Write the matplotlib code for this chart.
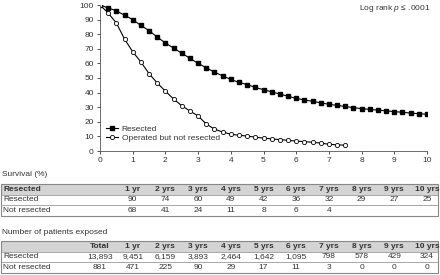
import numpy as np
import matplotlib
matplotlib.use('Agg')
import matplotlib.pyplot as plt
import matplotlib.transforms as mtransforms
from matplotlib.patches import Rectangle

plt.rcParams['font.family'] = ['Liberation Sans', 'DejaVu Sans']
plt.rcParams['mathtext.fontset'] = 'custom'
plt.rcParams['mathtext.it'] = 'Liberation Sans:italic'

# survival curves at quarter-year steps
t_res = np.arange(0, 10.01, 0.25)
s_res = [100, 98, 96, 93, 90, 86, 82.5, 78, 74, 70.5, 67, 63.5, 60,
         57, 54, 51.5, 49, 47, 45.5, 43.5, 42, 40.5, 39, 37.5, 36,
         35, 34, 33, 32, 31.2, 30.5, 29.7, 29, 28.5, 28, 27.5, 27,
         26.5, 26, 25.5, 25.2]
t_not = np.arange(0, 7.51, 0.25)
s_not = [100, 94.5, 87.7, 76.7, 68, 61, 53, 46.6, 41, 35.6, 31, 27.4, 24,
         18.5, 15, 13, 11.5, 10.8, 10.2, 9.5, 8.8, 8.3, 7.8, 7.3, 6.8,
         6.4, 6.0, 5.4, 4.6, 4.2, 4.0]

years = [1, 2, 3, 4, 5, 6, 7, 8, 9, 10]
year_labels = ['1 yr'] + ['%d yrs' % y for y in years[1:]]
surv_res = ['90', '74', '60', '49', '42', '36', '32', '29', '27', '25']
surv_not = ['68', '41', '24', '11', '8', '6', '4', '', '', '']
n_total = ['13,893', '881']
n_res = ['9,451', '6,159', '3,893', '2,464', '1,642', '1,095', '798', '578', '429', '324']
n_not = ['471', '225', '90', '29', '17', '11', '3', '0', '0', '0']

W, H = 440, 275
txt = '#333333'
fs = 6
fig = plt.figure(figsize=(W / 100, H / 100), dpi=100)
ax = fig.add_axes([100 / W, 1 - 151 / H, 327 / W, 146 / H])

ax.plot(t_res, s_res, '-s', c='black', lw=0.8, ms=3, mfc='black', label='Resected')
ax.plot(t_not, s_not, '-o', c='black', lw=0.8, ms=3, mfc='white', mew=0.6,
        label='Operated but not resected')
ax.set_xlim(0, 10)
ax.set_ylim(0, 100)
ax.set_xticks(range(0, 11))
ax.set_yticks(range(0, 101, 10))
ax.tick_params(labelsize=fs, length=2.5, width=0.6, pad=2, colors=txt)
for s in ['top', 'right']:
    ax.spines[s].set_visible(False)
for s in ['left', 'bottom']:
    ax.spines[s].set_linewidth(0.6)
    ax.spines[s].set_color('#555555')
ax.legend(loc='lower left', bbox_to_anchor=(0.0, 0.02), fontsize=fs, frameon=False,
          handlelength=1.5, handletextpad=0.4, labelspacing=0.2, borderaxespad=0.3,
          labelcolor=txt)
fig.text(430 / W, 1 - 9 / H, r'Log rank $p$ ≤ .0001', fontsize=fs, color=txt,
         ha='right', va='center')

# table columns line up with the year axis
blend = mtransforms.blended_transform_factory(ax.transData, fig.transFigure)


def fy(py):
    return 1 - py / H


def draw_table(top, rowh, header, rows, cols):
    x0, x1 = 1 / W, 438 / W
    fig.patches.append(Rectangle((x0, fy(top + rowh)), x1 - x0, rowh / H,
                                 transform=fig.transFigure, fc='#d4d4d4', ec='none'))
    for i in range(1, 3):
        yy = fy(top + i * rowh)
        fig.add_artist(plt.Line2D([x0, x1], [yy, yy], transform=fig.transFigure,
                                  color='#999999', lw=0.6))
    fig.patches.append(Rectangle((x0, fy(top + 3 * rowh)), x1 - x0, 3 * rowh / H,
                                 transform=fig.transFigure, fc='none', ec='#888888', lw=0.8))
    for r, row in enumerate([header] + rows):
        yc = fy(top + (r + 0.5) * rowh)
        bold = 'bold' if r == 0 else 'normal'
        fig.text(3 / W, yc, row[0], fontsize=fs, color=txt, ha='left', va='center',
                 weight=bold)
        for c, v in zip(cols, row[1:]):
            fig.text(c, yc, v, fontsize=fs, color=txt, ha='center', va='center',
                     weight=bold, transform=blend)


fig.text(2 / W, fy(174), 'Survival (%)', fontsize=fs, color=txt, ha='left', va='center')
draw_table(184, 10.5, ['Resected'] + year_labels,
           [['Resected'] + surv_res, ['Not resected'] + surv_not], years)

fig.text(2 / W, fy(232), 'Number of patients exposed', fontsize=fs, color=txt,
         ha='left', va='center')
draw_table(241, 10.5, [''] + ['Total'] + year_labels,
           [['Resected', n_total[0]] + n_res, ['Not resected', n_total[1]] + n_not],
           [0] + years)

fig.savefig('out.png', dpi=100)
